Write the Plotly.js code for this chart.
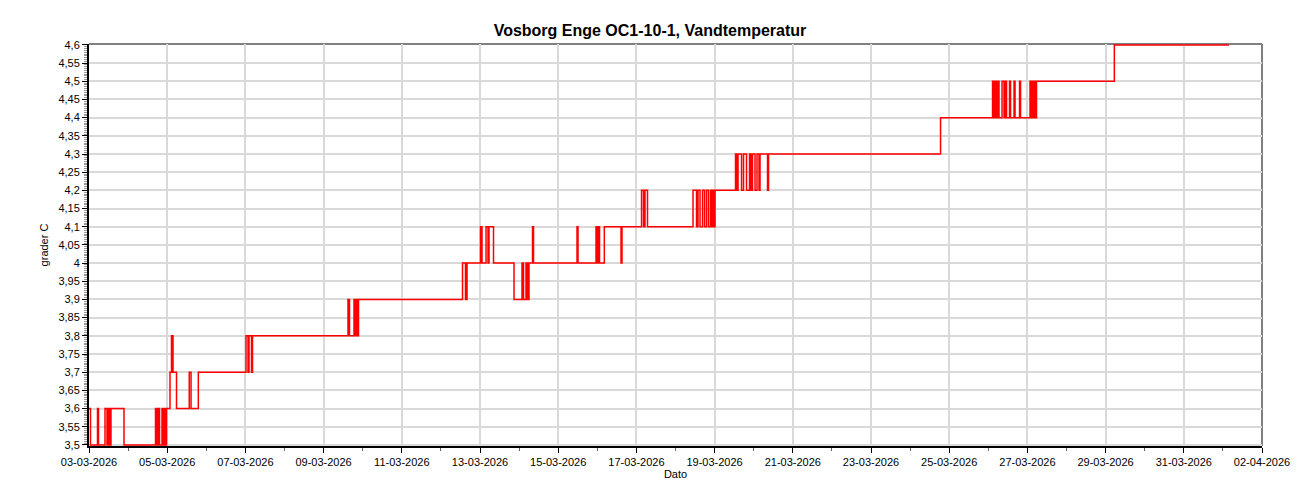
<!DOCTYPE html>
<html>
<head>
<meta charset="utf-8">
<script src="https://cdn.plot.ly/plotly-3.0.1.min.js"></script>
<style>html,body{margin:0;padding:0;background:#fff;}#chart{width:1300px;height:500px;}</style>
</head>
<body>
<div id="chart"></div>
<script>
const times = [
  "2026-03-03 00:00","2026-03-03 00:55","2026-03-03 05:13","2026-03-03 05:50","2026-03-03 09:49",
  "2026-03-03 11:03","2026-03-03 11:58","2026-03-03 12:53","2026-03-03 13:30","2026-03-03 21:29",
  "2026-03-04 16:49","2026-03-04 17:44","2026-03-04 18:21","2026-03-04 19:17","2026-03-04 20:49",
  "2026-03-04 21:44","2026-03-04 22:39","2026-03-04 23:16","2026-03-04 23:34","2026-03-05 01:43",
  "2026-03-05 02:38","2026-03-05 03:34","2026-03-05 05:43","2026-03-05 13:32","2026-03-05 14:38",
  "2026-03-05 19:06","2026-03-07 00:22","2026-03-07 01:36","2026-03-07 02:13","2026-03-07 03:45",
  "2026-03-07 04:22","2026-03-09 14:59","2026-03-09 15:54","2026-03-09 18:40","2026-03-09 19:35",
  "2026-03-09 20:12","2026-03-09 20:49","2026-03-09 21:26","2026-03-12 13:16","2026-03-12 15:06",
  "2026-03-12 16:02","2026-03-13 00:19","2026-03-13 01:14","2026-03-13 03:42","2026-03-13 04:55",
  "2026-03-13 05:32","2026-03-13 08:18","2026-03-13 20:53","2026-03-14 01:47","2026-03-14 02:43",
  "2026-03-14 04:15","2026-03-14 05:10","2026-03-14 06:05","2026-03-14 08:14","2026-03-14 08:51",
  "2026-03-15 11:33","2026-03-15 12:10","2026-03-15 23:13","2026-03-15 23:50","2026-03-16 00:26",
  "2026-03-16 01:22","2026-03-16 04:18","2026-03-16 14:34","2026-03-16 15:10","2026-03-17 03:09",
  "2026-03-17 04:22","2026-03-17 05:17","2026-03-17 06:49","2026-03-18 10:45","2026-03-18 12:54",
  "2026-03-18 13:49","2026-03-18 15:03","2026-03-18 16:35","2026-03-18 17:49","2026-03-18 19:03",
  "2026-03-18 20:16","2026-03-18 21:30","2026-03-18 22:25","2026-03-18 23:02","2026-03-18 23:39",
  "2026-03-19 00:16","2026-03-19 12:50","2026-03-19 13:46","2026-03-19 14:23","2026-03-19 16:32",
  "2026-03-19 17:45","2026-03-19 19:36","2026-03-19 21:26","2026-03-19 22:21","2026-03-19 23:17",
  "2026-03-20 00:49","2026-03-20 02:02","2026-03-20 03:16","2026-03-20 03:53","2026-03-20 08:29",
  "2026-03-20 09:06","2026-03-24 18:41","2026-03-26 02:36","2026-03-26 03:31","2026-03-26 04:08",
  "2026-03-26 04:45","2026-03-26 05:40","2026-03-26 06:35","2026-03-26 08:26","2026-03-26 09:39",
  "2026-03-26 10:16","2026-03-26 11:12","2026-03-26 13:02","2026-03-26 13:39","2026-03-26 15:48",
  "2026-03-26 16:25","2026-03-26 19:10","2026-03-26 19:47","2026-03-27 01:37","2026-03-27 02:14",
  "2026-03-27 02:51","2026-03-27 03:28","2026-03-27 04:04","2026-03-27 04:41","2026-03-27 05:36",
  "2026-03-29 05:22","2026-04-01 03:46"
];
const temps = [
  3.6,3.5,3.6,3.5,3.6,
  3.5,3.6,3.5,3.6,3.5,
  3.6,3.5,3.6,3.5,3.6,
  3.5,3.6,3.5,3.6,3.7,
  3.8,3.7,3.6,3.7,3.6,
  3.7,3.8,3.7,3.8,3.7,
  3.8,3.9,3.8,3.9,3.8,
  3.9,3.8,3.9,4.0,3.9,
  4.0,4.1,4.0,4.1,4.0,
  4.1,4.0,3.9,4.0,3.9,
  4.0,3.9,4.0,4.1,4.0,
  4.1,4.0,4.1,4.0,4.1,
  4.0,4.1,4.0,4.1,4.2,
  4.1,4.2,4.1,4.2,4.1,
  4.2,4.1,4.2,4.1,4.2,
  4.1,4.2,4.1,4.2,4.1,
  4.2,4.3,4.2,4.3,4.2,
  4.3,4.2,4.3,4.2,4.3,
  4.2,4.3,4.2,4.3,4.2,
  4.3,4.4,4.5,4.4,4.5,
  4.4,4.5,4.4,4.5,4.4,
  4.5,4.4,4.5,4.4,4.5,
  4.4,4.5,4.4,4.5,4.4,
  4.5,4.4,4.5,4.4,4.5,
  4.6,4.6
];

const chartTitle = "Vosborg Enge OC1-10-1, Vandtemperatur";
const xTitle = "Dato";
const yTitle = "grader C";
const xRange = ["2026-03-03 00:00", "2026-04-02 00:00"];
const yRange = [3.497, 4.6025];

const tickFont = {family: "Liberation Sans, Arial, sans-serif", size: 11, color: "#000"};

const trace = {
  x: times, y: temps, type: "scatter", mode: "lines",
  line: {color: "#ff0000", width: 1.5, shape: "hv"},
  hoverinfo: "skip"
};

const layout = {
  width: 1300, height: 500,
  paper_bgcolor: "#ffffff", plot_bgcolor: "#ffffff",
  separators: ", ",
  margin: {l: 89, r: 38, t: 44, b: 54},
  showlegend: false,
  title: {
    text: chartTitle, x: 0.5, xanchor: "center", y: 0.94, yref: "container", yanchor: "middle",
    font: {family: "Liberation Sans, Arial, sans-serif", size: 16, weight: "bold", color: "#000"}
  },
  xaxis: {
    type: "date", range: xRange, autorange: false,
    dtick: 2 * 86400000, tick0: "2026-03-03", tickformat: "%d-%m-%Y",
    ticks: "outside", ticklen: 5, tickwidth: 1, tickcolor: "#000",
    tickfont: tickFont,
    showgrid: true, gridcolor: "#d9d9d9", gridwidth: 2,
    showline: true, linecolor: "#000", linewidth: 2,
    zeroline: false,
    minor: {dtick: 86400000, ticks: "outside", ticklen: 3, tickcolor: "#666", showgrid: false},
    title: {text: xTitle, standoff: 2, font: {family: "Liberation Sans, Arial, sans-serif", size: 11, color: "#000"}}
  },
  yaxis: {
    range: yRange, autorange: false,
    dtick: 0.05, tick0: 3.5,
    ticks: "outside", ticklen: 5, tickwidth: 1, tickcolor: "#000",
    tickfont: tickFont,
    showgrid: true, gridcolor: "#d9d9d9", gridwidth: 2,
    showline: true, linecolor: "#000", linewidth: 2,
    zeroline: false,
    minor: {dtick: 0.005, ticks: "outside", ticklen: 3, tickcolor: "#999", showgrid: false},
    title: {text: yTitle, standoff: 8, font: {family: "Liberation Sans, Arial, sans-serif", size: 11, color: "#000"}}
  },
  shapes: [
    {type: "line", layer: "below", xref: "paper", yref: "paper", x0: 0, x1: 1, y0: 1, y1: 1, line: {color: "#808080", width: 2}},
    {type: "line", layer: "below", xref: "paper", yref: "paper", x0: 1, x1: 1, y0: 0, y1: 1, line: {color: "#808080", width: 2}}
  ]
};

Plotly.newPlot("chart", [trace], layout, {displayModeBar: false, staticPlot: true});
</script>
</body>
</html>
